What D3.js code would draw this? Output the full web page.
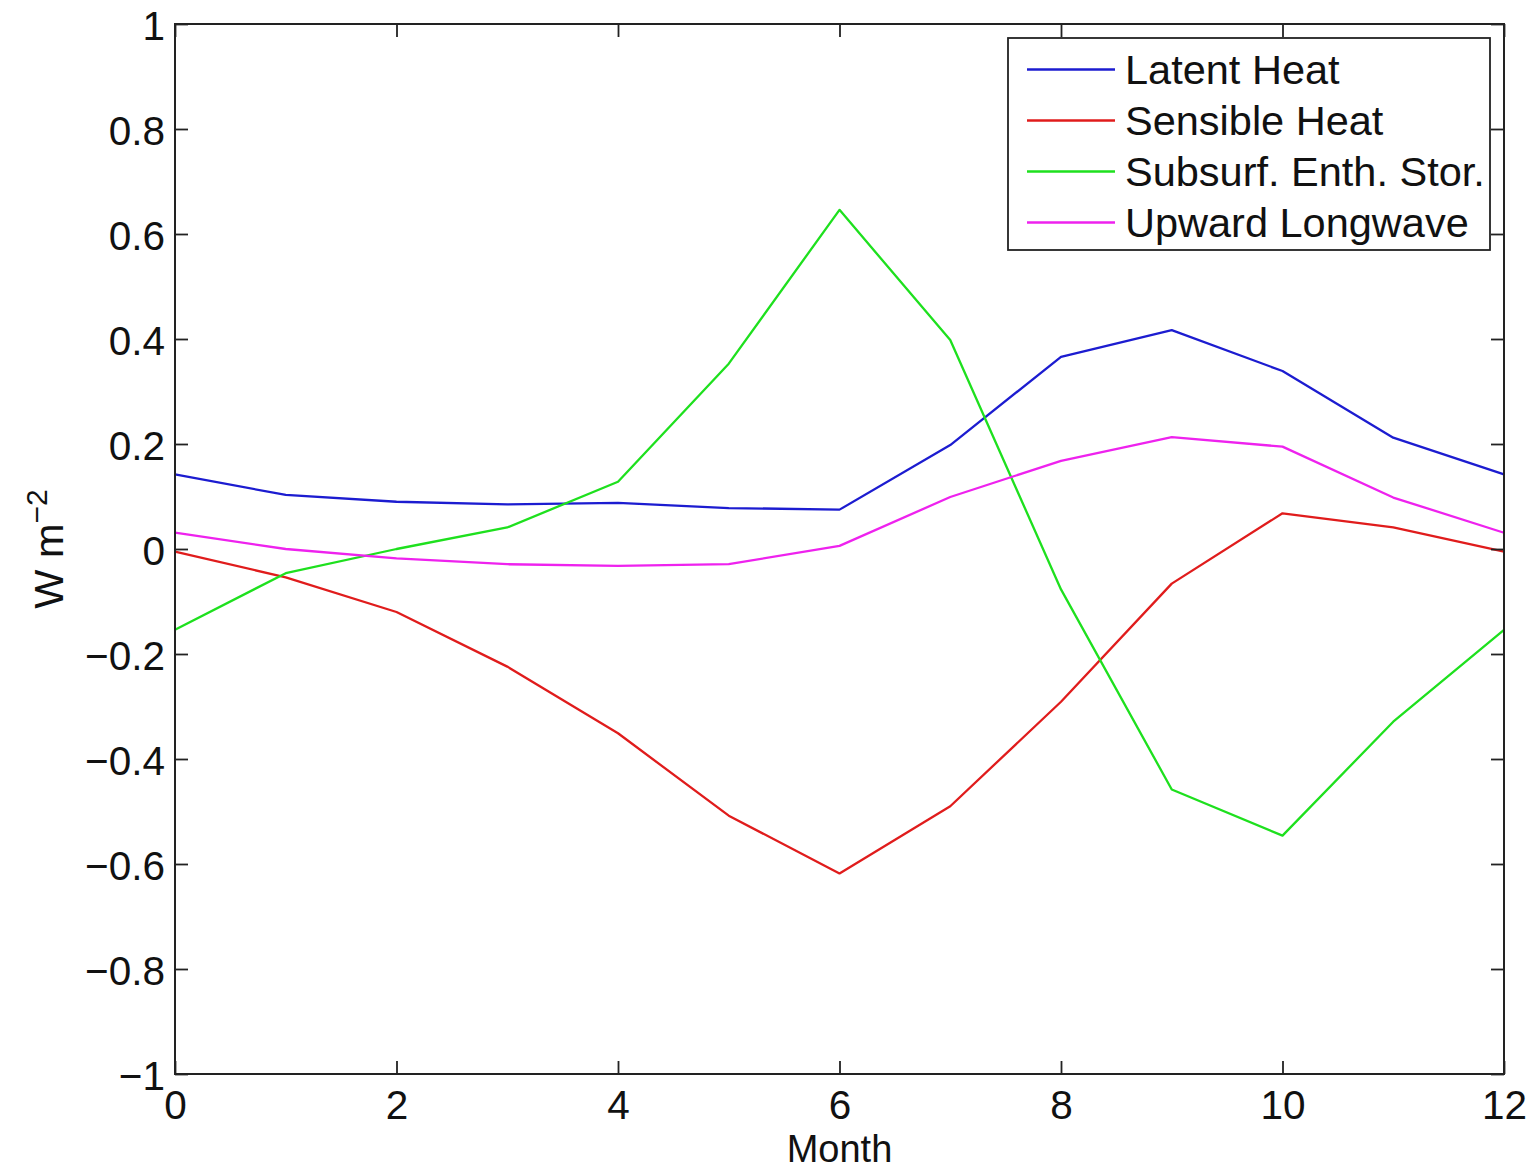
<!DOCTYPE html>
<html>
<head>
<meta charset="utf-8">
<script src="https://cdn.jsdelivr.net/npm/d3@7"></script>
<style>
  html, body { margin: 0; padding: 0; background: #fff; }
  svg { display: block; font-family: "Liberation Sans", Arial, Helvetica, sans-serif; }
</style>
</head>
<body>
<svg id="chart" width="1535" height="1170"></svg>
<script>
const months = [0, 1, 2, 3, 4, 5, 6, 7, 8, 9, 10, 11, 12];
const latentHeat   = [0.142, 0.103, 0.090, 0.085, 0.088, 0.078, 0.075, 0.198, 0.366, 0.417, 0.339, 0.212, 0.142];
const sensibleHeat = [-0.005, -0.054, -0.120, -0.224, -0.351, -0.508, -0.618, -0.490, -0.291, -0.066, 0.068, 0.041, -0.005];
const subsurfEnth  = [-0.154, -0.046, 0.000, 0.041, 0.128, 0.353, 0.646, 0.398, -0.077, -0.458, -0.546, -0.329, -0.154];
const upwardLW     = [0.031, 0.000, -0.018, -0.029, -0.032, -0.029, 0.006, 0.099, 0.168, 0.213, 0.195, 0.098, 0.031];
const seriesNames  = ["Latent Heat", "Sensible Heat", "Subsurf. Enth. Stor.", "Upward Longwave"];
const seriesColors = ["#1c1cd0", "#e01c1c", "#1ee01e", "#ee22ee"];
const xTicks = [0, 2, 4, 6, 8, 10, 12];
const yTicks = [-1, -0.8, -0.6, -0.4, -0.2, 0, 0.2, 0.4, 0.6, 0.8, 1];
const xLabel = "Month";

(function () {
const series = [latentHeat, sensibleHeat, subsurfEnth, upwardLW];

const svg = d3.select("#chart");
const pL = 175, pR = 1504, pT = 24, pB = 1074;
const x = d3.scaleLinear().domain([0, 12]).range([pL, pR]);
const y = d3.scaleLinear().domain([-1, 1]).range([pB, pT]);
const tickFont = 40.5;
const labelFont = 41.5;
const tickLen = 13;

// data lines
const line = d3.line().x((d, i) => x(months[i])).y(d => y(d));
series.forEach((s, k) => {
  svg.append("path").datum(s)
    .attr("d", line)
    .attr("fill", "none")
    .attr("stroke", seriesColors[k])
    .attr("stroke-width", 2.3)
    .attr("stroke-linejoin", "round");
});

const fmtX = d => String(d);
const fmtY = d => String(d).replace("-", "\u2212");

const gB = svg.append("g").attr("transform", `translate(0,${pB})`)
  .call(d3.axisBottom(x).tickValues(xTicks).tickSize(-tickLen).tickFormat(fmtX));
const gT = svg.append("g").attr("transform", `translate(0,${pT})`)
  .call(d3.axisTop(x).tickValues(xTicks).tickSize(-tickLen).tickFormat(""));
const gL = svg.append("g").attr("transform", `translate(${pL},0)`)
  .call(d3.axisLeft(y).tickValues(yTicks).tickSize(-tickLen).tickFormat(fmtY));
const gR = svg.append("g").attr("transform", `translate(${pR},0)`)
  .call(d3.axisRight(y).tickValues(yTicks).tickSize(-tickLen).tickFormat(""));

[gB, gT, gL, gR].forEach(g => {
  g.select(".domain").remove();
  g.selectAll(".tick line").attr("stroke", "#222").attr("stroke-width", 1.8);
  g.selectAll("text").attr("font-size", tickFont).attr("fill", "#111")
    .attr("font-family", "'Liberation Sans', Arial, Helvetica, sans-serif");
});
gB.selectAll("text").attr("y", 44.5).attr("dy", null);
gL.selectAll("text").attr("x", -10).attr("dy", "0.38em");

// box
svg.append("rect")
  .attr("x", pL).attr("y", pT)
  .attr("width", pR - pL).attr("height", pB - pT)
  .attr("fill", "none").attr("stroke", "#222").attr("stroke-width", 2);

// x label
svg.append("text")
  .attr("x", x(6)).attr("y", 1161.5)
  .attr("text-anchor", "middle")
  .attr("font-size", 38).attr("fill", "#111")
  .text(xLabel);

// y label: W m^-2
const yl = svg.append("text")
  .attr("transform", `translate(63,${y(0)}) rotate(-90)`)
  .attr("text-anchor", "middle")
  .attr("font-size", labelFont).attr("fill", "#111");
yl.append("tspan").text("W m");
yl.append("tspan").attr("dy", -16).attr("font-size", 30).text("\u22122");

// legend
const lgX = 1008, lgY = 38, lgW = 482, lgH = 212;
const lg = svg.append("g");
lg.append("rect").attr("x", lgX).attr("y", lgY).attr("width", lgW).attr("height", lgH)
  .attr("fill", "#fff").attr("stroke", "#222").attr("stroke-width", 1.8);
const rowY = d3.scaleLinear().domain([0, 3]).range([69.5, 222.5]);
seriesNames.forEach((name, k) => {
  lg.append("line")
    .attr("x1", 1027).attr("x2", 1115)
    .attr("y1", rowY(k)).attr("y2", rowY(k))
    .attr("stroke", seriesColors[k]).attr("stroke-width", 2.3);
  lg.append("text")
    .attr("x", 1125).attr("y", rowY(k)).attr("dy", "0.36em")
    .attr("font-size", labelFont).attr("fill", "#111")
    .text(name);
});
})();
</script>
</body>
</html>
